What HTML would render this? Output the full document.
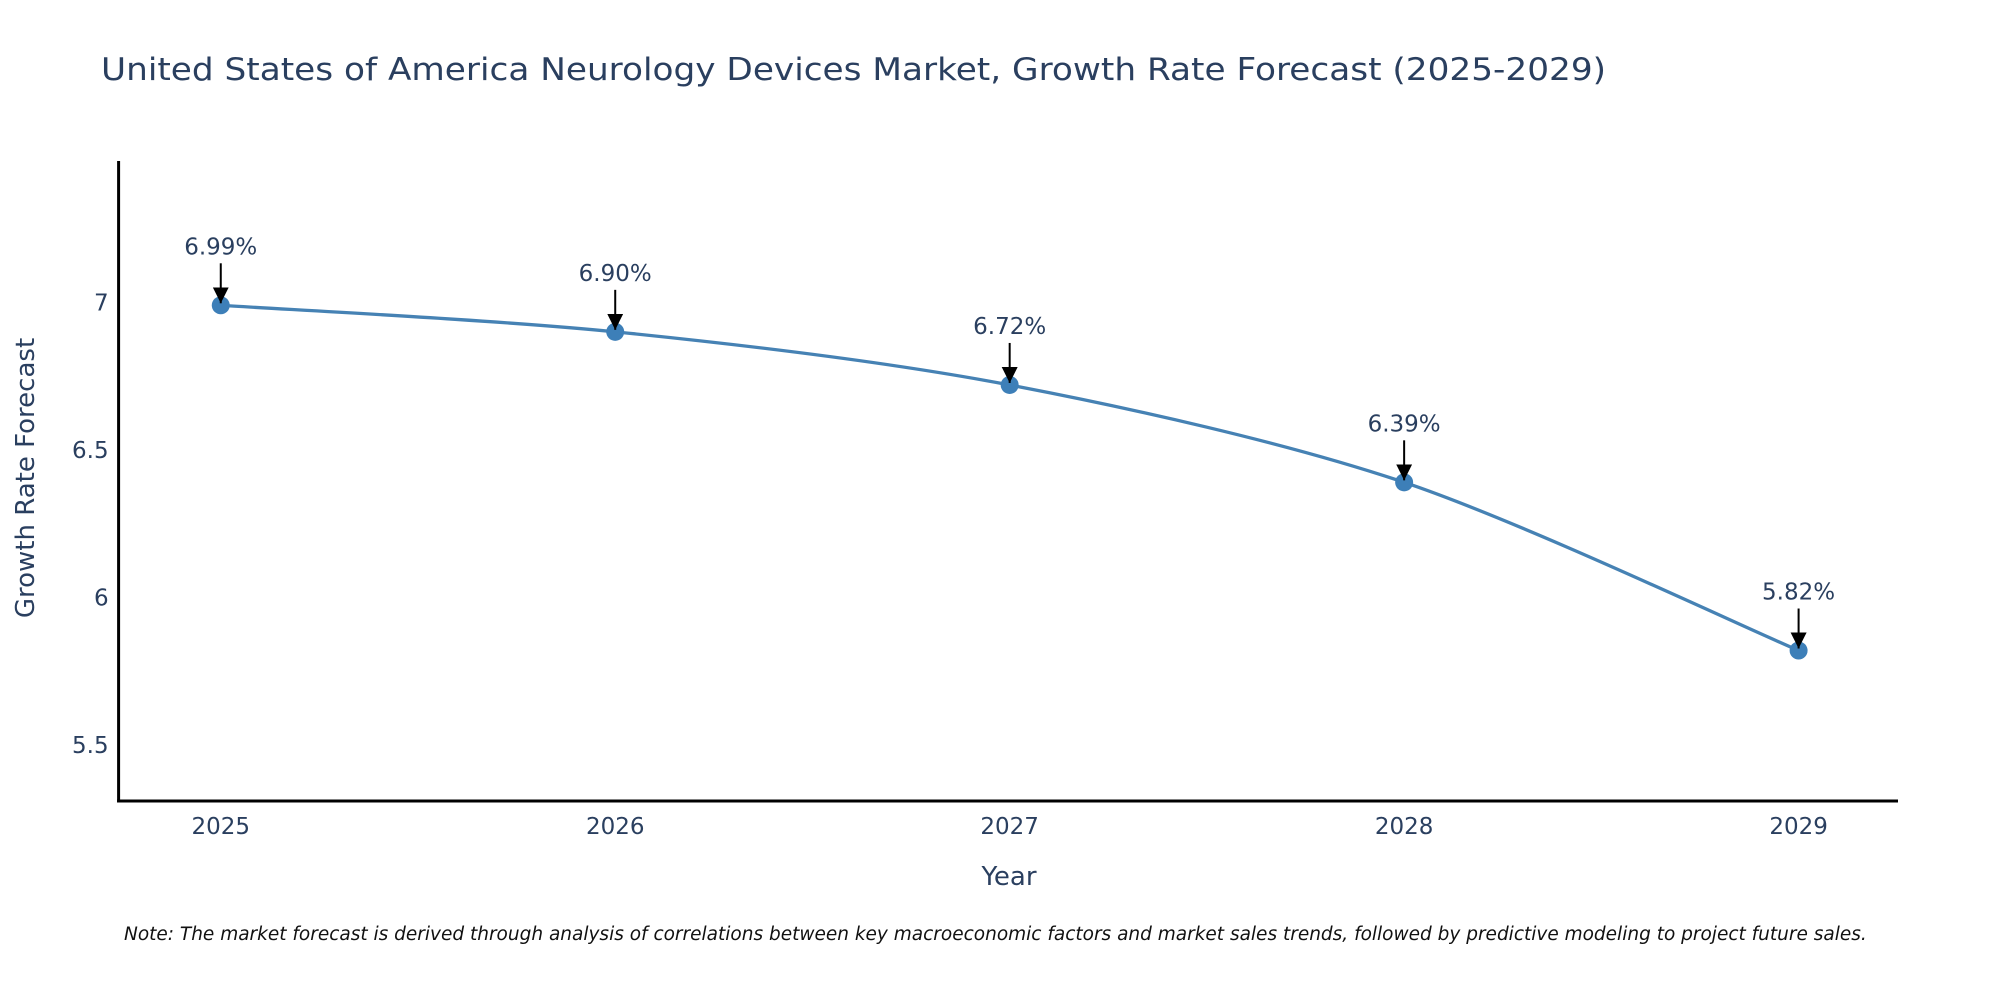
<!DOCTYPE html>
<html><head><meta charset="utf-8"><style>
html,body{margin:0;padding:0;background:#fff;}
svg{display:block;font-family:"DejaVu Sans","Liberation Sans",sans-serif;}
</style></head><body>
<svg id="chart" width="2000" height="1000" viewBox="0 0 2000 1000" xmlns="http://www.w3.org/2000/svg">
<text x="101" y="80" font-size="31" fill="#2a3f5f" textLength="1505" lengthAdjust="spacingAndGlyphs">United States of America Neurology Devices Market, Growth Rate Forecast (2025-2029)</text>
<g id="plot"></g>
<text transform="translate(34,478) rotate(-90)" text-anchor="middle" font-size="26" fill="#2a3f5f">Growth Rate Forecast</text>
<text x="1009" y="885" text-anchor="middle" font-size="26" fill="#2a3f5f">Year</text>
<text x="124" y="940" font-size="18.5" font-style="italic" fill="#111">Note: The market forecast is derived through analysis of correlations between key macroeconomic factors and market sales trends, followed by predictive modeling to project future sales.</text>
</svg>
<script>
const years = [2025, 2026, 2027, 2028, 2029];
const values = [6.99, 6.90, 6.72, 6.39, 5.82];
const labels = ["6.99%", "6.90%", "6.72%", "6.39%", "5.82%"];
const yTicks = [5.5, 6, 6.5, 7];
const yTickLabels = ["5.5", "6", "6.5", "7"];

const NS = "http://www.w3.org/2000/svg";
const L = 118.6, R = 1898, T = 161, B = 801;
const xMin = 2024.741, xMax = 2029.252, yMin = 5.31, yMax = 7.479;
const xs = v => L + (v - xMin) / (xMax - xMin) * (R - L);
const ys = v => B - (v - yMin) / (yMax - yMin) * (B - T);
const g = document.getElementById("plot");
function mk(tag, attrs) { const e = document.createElementNS(NS, tag); for (const k in attrs) e.setAttribute(k, attrs[k]); g.appendChild(e); return e; }

const defs = mk("defs", {});
defs.innerHTML = '<marker id="ah" viewBox="0 0 10 10" refX="10" refY="5" markerWidth="8" markerHeight="8" orient="auto" markerUnits="strokeWidth"><path d="M0,0 L10,5 L0,10 z" fill="#000"/></marker>';

const ya = mk("line", {x1: L, y1: T, x2: L, y2: B + 1.5, stroke: "#000", "stroke-width": 3});


const xa = mk("line", {x1: L - 1.5, y1: B, x2: R, y2: B, stroke: "#000", "stroke-width": 3});



yTicks.forEach((t, i) => {
  const tx = mk("text", {x: L - 10, y: ys(t) + 8, "text-anchor": "end", "font-size": 23, fill: "#2a3f5f"});
  tx.textContent = yTickLabels[i];
  
  
});
years.forEach(y => {
  const tx = mk("text", {x: xs(y), y: 834, "text-anchor": "middle", "font-size": 23, fill: "#2a3f5f"});
  tx.textContent = String(y);
  
  
});

const pts = years.map((y, i) => [xs(y), ys(values[i])]);
let d = "M" + pts[0][0] + "," + pts[0][1];
const s = 0.3;
for (let i = 0; i < pts.length - 1; i++) {
  const p0 = pts[Math.max(0, i - 1)], p1 = pts[i], p2 = pts[i + 1], p3 = pts[Math.min(pts.length - 1, i + 2)];
  const c1 = [p1[0] + (p2[0] - p0[0]) * s / 2, p1[1] + (p2[1] - p0[1]) * s / 2];
  const c2 = [p2[0] - (p3[0] - p1[0]) * s / 2, p2[1] - (p3[1] - p1[1]) * s / 2];
  d += " C" + c1 + " " + c2 + " " + p2;
}
const line = mk("path", {d: d, fill: "none", stroke: "#4682b4", "stroke-width": 3.3});



pts.forEach((p, i) => {
  const c = mk("circle", {cx: p[0], cy: p[1], r: 9, fill: "#3d7fb8"});
  
  
  const a = mk("line", {x1: p[0], y1: p[1] - 42, x2: p[0], y2: p[1] - 2, stroke: "#000", "stroke-width": 2, "marker-end": "url(#ah)"});
  
  
  const t = mk("text", {x: p[0], y: p[1] - 51, "text-anchor": "middle", "font-size": 23, fill: "#2a3f5f"});
  t.textContent = labels[i];
  
  
});
</script>
</body></html>
